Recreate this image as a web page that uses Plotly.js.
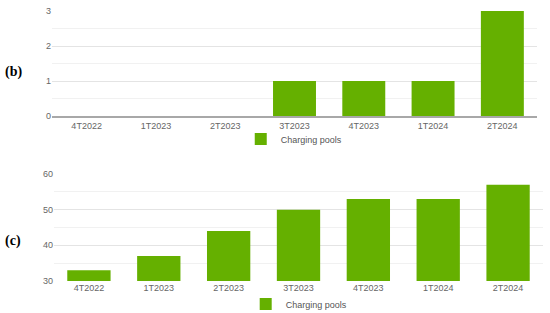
<!DOCTYPE html>
<html>
<head>
<meta charset="utf-8">
<script src="https://cdn.plot.ly/plotly-3.0.1.min.js"></script>
<style>
  html, body { margin: 0; padding: 0; background: #fff; }
  #chart { width: 550px; height: 313px; }
</style>
</head>
<body>
<div id="chart"></div>
<script>
const quarters = ["4T2022", "1T2023", "2T2023", "3T2023", "4T2023", "1T2024", "2T2024"];
const poolsB = [0, 0, 0, 1, 1, 1, 3];
const poolsC = [33, 37, 44, 50, 53, 53, 57];
const seriesName = "Charging pools";
const panelLabels = ["(b)", "(c)"];

const barColor = "#65b000";
const tickFont = { family: "Arial, 'Liberation Sans', sans-serif", size: 9, color: "#666" };

const traceB = {
    name: seriesName,
    x: quarters,
    y: poolsB,
    type: "bar",
    width: 0.62,
    marker: { color: barColor },
    xaxis: "x",
    yaxis: "y",
    legend: "legend",
    showlegend: true,
};

const traceC = {
    name: seriesName,
    x: quarters,
    y: poolsC,
    type: "bar",
    width: 0.62,
    marker: { color: barColor },
    xaxis: "x2",
    yaxis: "y2",
    legend: "legend2",
    showlegend: true,
};

const yCommon = {
    tickfont: tickFont,
    gridcolor: "#e4e4e4",
    gridwidth: 1,
    ticks: "",
    zeroline: false,
    fixedrange: true,
};

const legendCommon = {
    orientation: "h",
    xanchor: "center",
    yanchor: "middle",
    bgcolor: "rgba(0,0,0,0)",
    font: { family: "Arial, 'Liberation Sans', sans-serif", size: 9, color: "#555" },
    itemwidth: 30,
};

const layout = {
    width: 550,
    height: 313,
    margin: { l: 0, r: 0, t: 0, b: 0, autoexpand: false },
    showlegend: true,
    paper_bgcolor: "#fff",
    plot_bgcolor: "#fff",
    xaxis: {
        domain: [52 / 550, 537 / 550],
        anchor: "y",
        tickfont: tickFont,
        showline: true,
        linecolor: "#a8a8a8",
        linewidth: 2,
        showgrid: false,
        ticks: "",
    },
    yaxis: Object.assign({}, yCommon, {
        domain: [1 - 116 / 313, 1 - 11 / 313],
        anchor: "x",
        range: [0, 3],
        dtick: 1,
        minor: { dtick: 0.5, showgrid: true, gridcolor: "#f1f1f1" },
    }),
    xaxis2: {
        domain: [54 / 550, 543 / 550],
        anchor: "y2",
        tickfont: tickFont,
        showline: false,
        showgrid: false,
        ticks: "",
    },
    yaxis2: Object.assign({}, yCommon, {
        domain: [1 - 281 / 313, 1 - 174 / 313],
        anchor: "x2",
        range: [30, 60],
        dtick: 10,
        minor: { dtick: 5, showgrid: true, gridcolor: "#f1f1f1" },
    }),
    legend: Object.assign({}, legendCommon, { x: 0.535, y: 1 - 139 / 313 }),
    legend2: Object.assign({}, legendCommon, { x: 0.544, y: 1 - 304 / 313 }),
    annotations: [
        { text: "<b>" + panelLabels[0] + "</b>", xref: "paper", yref: "paper", x: 13 / 550, y: 1 - 72 / 313 },
        { text: "<b>" + panelLabels[1] + "</b>", xref: "paper", yref: "paper", x: 13 / 550, y: 1 - 241 / 313 },
    ].map(a => Object.assign(a, {
        showarrow: false,
        xanchor: "center",
        yanchor: "middle",
        font: { family: "'Liberation Serif', 'Times New Roman', serif", size: 14, color: "#000" },
    })),
};

Plotly.newPlot("chart", [traceB, traceC], layout, { displayModeBar: false, staticPlot: true });
</script>
</body>
</html>
